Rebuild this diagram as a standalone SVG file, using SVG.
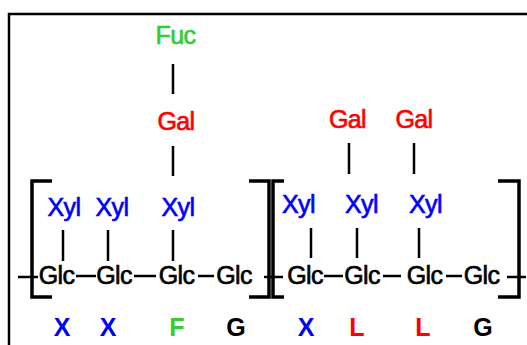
<svg xmlns="http://www.w3.org/2000/svg" width="527" height="345" viewBox="0 0 527 345">
<style>
text{font-family:"Liberation Sans",Arial,sans-serif;font-size:25px;text-anchor:middle;letter-spacing:-0.6px;stroke-width:0.65px}
.b{fill:#0000ff;stroke:#0000ff}.r{fill:#ff0000;stroke:#ff0000}.g{fill:#33cc33;stroke:#33cc33}.k{fill:#000;stroke:#000}
.lab{font-weight:bold;font-size:25px;letter-spacing:0;stroke-width:0}
.ln{stroke:#000;stroke-width:2.5;fill:none}
.br{stroke:#000;stroke-width:3.5;fill:none;stroke-linejoin:miter}
.fr{stroke:#000;stroke-width:2.5;fill:none}
</style>
<rect width="527" height="345" fill="#fff"/>
<path class="fr" d="M9,345 V14 H527"/>
<g id="brackets">
<path class="br" d="M52,181 H32 V297 H52"/>
<path class="br" d="M249,181 H269 V297 H249"/>
<path class="br" d="M284,181 H273 V297 H284"/>
<path class="br" d="M498,181 H519 V297 H498"/>
</g>
<g id="connectors">
<line class="ln" x1="173" y1="64" x2="173" y2="94"/>
<line class="ln" x1="173" y1="146" x2="173" y2="176"/>
<line class="ln" x1="63" y1="230" x2="63" y2="261"/>
<line class="ln" x1="108" y1="230" x2="108" y2="261"/>
<line class="ln" x1="173" y1="230" x2="173" y2="261"/>
<line class="ln" x1="349" y1="143" x2="349" y2="174"/>
<line class="ln" x1="414" y1="143" x2="414" y2="174"/>
<line class="ln" x1="311" y1="228" x2="311" y2="258"/>
<line class="ln" x1="357" y1="228" x2="357" y2="258"/>
<line class="ln" x1="419" y1="228" x2="419" y2="258"/>
<line class="ln" x1="18" y1="277" x2="38" y2="277"/>
<line class="ln" x1="76" y1="276" x2="96" y2="276"/>
<line class="ln" x1="134" y1="276" x2="156" y2="276"/>
<line class="ln" x1="198" y1="276" x2="214" y2="276"/>
<line class="ln" x1="264" y1="277" x2="283" y2="277"/>
<line class="ln" x1="324" y1="276" x2="343" y2="276"/>
<line class="ln" x1="383" y1="276" x2="401" y2="276"/>
<line class="ln" x1="446" y1="276" x2="462" y2="276"/>
<line class="ln" x1="507" y1="277" x2="526" y2="277"/>
</g>
<g id="fuc"><text class="g" x="175.5" y="44">Fuc</text></g>
<g id="gal1"><text class="r" x="176" y="130">Gal</text></g>
<g id="gal2"><text class="r" x="347.5" y="128">Gal</text></g>
<g id="gal3"><text class="r" x="414" y="128">Gal</text></g>
<g id="xyl1"><text class="b" x="64" y="216">Xyl</text></g>
<g id="xyl2"><text class="b" x="112" y="216">Xyl</text></g>
<g id="xyl3"><text class="b" x="178" y="216">Xyl</text></g>
<g id="xyl4"><text class="b" x="298.5" y="213">Xyl</text></g>
<g id="xyl5"><text class="b" x="361.5" y="213">Xyl</text></g>
<g id="xyl6"><text class="b" x="425.5" y="213">Xyl</text></g>
<g id="glc1"><text class="k" x="56.5" y="284">Glc</text></g>
<g id="glc2"><text class="k" x="114" y="284">Glc</text></g>
<g id="glc3"><text class="k" x="176.5" y="284">Glc</text></g>
<g id="glc4"><text class="k" x="234" y="284">Glc</text></g>
<g id="glc5"><text class="k" x="305" y="284">Glc</text></g>
<g id="glc6"><text class="k" x="362" y="284">Glc</text></g>
<g id="glc7"><text class="k" x="424.5" y="284">Glc</text></g>
<g id="glc8"><text class="k" x="481.5" y="284">Glc</text></g>
<g id="labels">
<text class="lab b" x="62" y="336">X</text>
<text class="lab b" x="108" y="336">X</text>
<text class="lab g" x="177" y="336">F</text>
<text class="lab k" x="236" y="336">G</text>
<text class="lab b" x="306" y="336">X</text>
<text class="lab r" x="357" y="336">L</text>
<text class="lab r" x="423" y="336">L</text>
<text class="lab k" x="483" y="336">G</text>
</g>
</svg>
